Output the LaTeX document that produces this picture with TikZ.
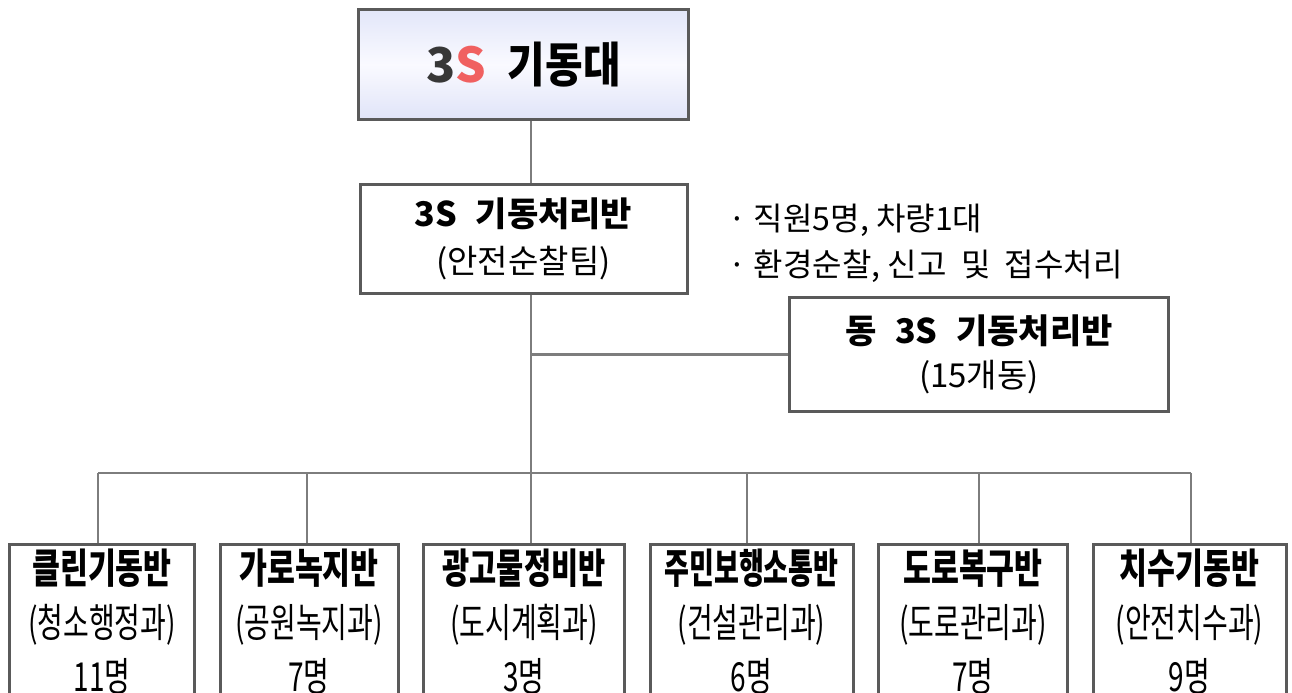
\documentclass[tikz,border=0pt]{standalone}
\usepackage{fontspec}
\setmainfont{Noto Sans CJK KR}
\usetikzlibrary{positioning,calc}
\definecolor{boxline}{RGB}{90,90,90}
\definecolor{linkgray}{RGB}{125,125,125}
\definecolor{sred}{RGB}{240,96,96}
\definecolor{dgray}{RGB}{55,55,55}
\definecolor{lavtop}{RGB}{226,230,249}
\definecolor{lavmid}{RGB}{250,250,255}
\definecolor{lavbot}{RGB}{224,228,248}
\tikzset{org/.style={draw=boxline, line width=1.5pt, rectangle, align=center, inner sep=0pt}}
\tikzstyle{unit}=[org, anchor=north, minimum height=77pt, font=\fontsize{20}{27}\selectfont]
\tikzstyle{link}=[draw=linkgray, line width=1.2pt]
\newcommand{\ti}[2][0.74]{{\fontsize{20.5}{27}\selectfont\bfseries\scalebox{#1}[1]{#2}}}
\newcommand{\sub}[1]{\scalebox{0.7}[1]{#1}}

\begin{document}
\begin{tikzpicture}[x=0.5pt, y=0.5pt, node distance=11.25pt]
\clip (0,0) rectangle (1292,-692);
% head
\node[org, minimum width=165pt, minimum height=55pt, top color=lavtop, bottom color=lavbot, middle color=lavmid] (T0) at (523.5,-64.5) {\fontsize{24}{28}\selectfont\bfseries\textcolor{dgray}{3}\textcolor{sred}{S}\hspace{0.45em}\scalebox{0.85}[1]{기동대}};
\node[org, minimum width=163.5pt, minimum height=54.5pt, below=31pt of T0, font=\fontsize{16.5}{23.5}\selectfont] (T1) {{\fontsize{17}{23.5}\selectfont\bfseries 3S\hspace{0.55em}기동처리반}\\(안전순찰팀)};
\node[right=20pt of T1, yshift=-2pt, align=left, inner sep=0pt, font=\fontsize{16}{23}\selectfont] (N) {·\ 직원5명,\ 차량1대\\·\ 환경순찰,\ 신고\ \ 및\ \ 접수처리};
\node[org, minimum width=189.5pt, minimum height=57pt, font=\fontsize{16.5}{22}\selectfont] (D) at (979,-354.5) {{\fontsize{17}{22}\selectfont\bfseries 동\hspace{0.55em}3S\hspace{0.55em}기동처리반}\\(15개동)};
\coordinate (J) at (531,-354.5);
\coordinate (bus) at (531,-473);

% units
\node[unit, minimum width=92.5pt] (B1) at (102,-542.75) {\ti{클린기동반}\\\sub{(청소행정과)}\\\sub{11명}};
\node[unit, minimum width=89pt, right=of B1] (B2) {\ti{가로녹지반}\\\sub{(공원녹지과)}\\\sub{7명}};
\node[unit, minimum width=100.5pt, right=of B2] (B3) {\ti[0.72]{광고물정비반}\\\sub{(도시계획과)}\\\sub{3명}};
\node[unit, minimum width=101.5pt, right=of B3] (B4) {\ti[0.66]{주민보행소통반}\\\sub{(건설관리과)}\\\sub{6명}};
\node[unit, minimum width=94.5pt, right=of B4] (B5) {\ti{도로복구반}\\\sub{(도로관리과)}\\\sub{7명}};
\node[unit, minimum width=96.5pt, right=of B5] (B6) {\ti{치수기동반}\\\sub{(안전치수과)}\\\sub{9명}};

\draw[link] (T0.south -| J) -- (T1.north -| J);
\draw[link] (T1.south -| J) -- (bus);
\draw[link] (J) -- (D.west);
\draw[link] (bus -| 98,0) -- (bus -| 1191,0);
\foreach \b/\x in {B1/98, B2/307, B3/531, B4/747, B5/979, B6/1191}
  \draw[link] (bus -| \x,0) -- (\b.north -| \x,0);
\end{tikzpicture}
\end{document}
